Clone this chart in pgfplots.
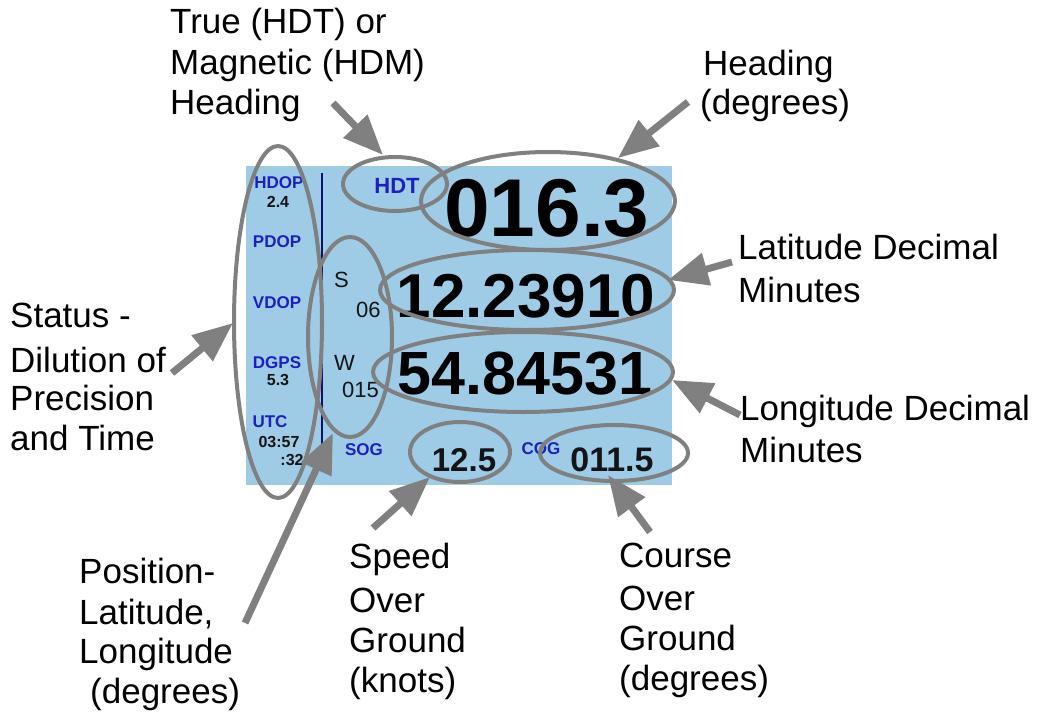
\documentclass[border=0pt]{standalone}
\usepackage{fontspec}
\setmainfont{Liberation Sans}
\usepackage{pgfplots}
\pgfplotsset{compat=1.18}
\usetikzlibrary{arrows.meta}
\definecolor{panel}{RGB}{158,204,230}
\definecolor{ann}{RGB}{128,128,128}
\definecolor{lbl}{RGB}{28,32,190}
\definecolor{navy}{RGB}{10,20,110}
\definecolor{ink}{RGB}{20,20,20}
\begin{document}
\begin{tikzpicture}[
  big/.style={anchor=base west,inner sep=0pt,font=\fontsize{35}{40}\selectfont},
  sb/.style={anchor=base,inner sep=0pt,text=lbl,font=\fontsize{17}{19}\selectfont\bfseries},
  sv/.style={anchor=base,inner sep=0pt,text=ink,font=\fontsize{16}{18}\selectfont\bfseries},
  posl/.style={anchor=base west,inner sep=0pt,text=ink,font=\fontsize{22}{24}\selectfont},
  ell/.style={draw=ann,line width=4pt},
  arr/.style={draw=ann,line width=7pt,-{Triangle[length=40pt,width=32pt,fill=ann]}}]
\begin{axis}[x=1pt,y=1pt,xmin=0,xmax=1047,ymin=0,ymax=712,y dir=reverse,hide axis,clip=false]
% panel
\fill[panel] (axis cs:246,166) rectangle (axis cs:672,485);
\draw[navy,line width=2pt] (axis cs:322,173) -- (axis cs:322,447);
% left status column
\node[sb] at (axis cs:279,188) {HDOP};
\node[sv] at (axis cs:278,207) {2.4};
\node[sb] at (axis cs:277,247) {PDOP};
\node[sb] at (axis cs:277,308) {VDOP};
\node[sb] at (axis cs:277,368) {DGPS};
\node[sv] at (axis cs:278,385) {5.3};
\node[sb] at (axis cs:270,427) {UTC};
\node[sv] at (axis cs:279,447) {03:57};
\node[sv] at (axis cs:292,465) {:32};
% position
\node[posl] at (axis cs:334,287) {S};
\node[posl] at (axis cs:356,317) {06};
\node[posl] at (axis cs:334,370) {W};
\node[posl] at (axis cs:342,397) {015};
% heading etc
\node[anchor=base,inner sep=0pt,text=lbl,font=\fontsize{22}{24}\selectfont\bfseries] at (axis cs:397,193) {HDT};
\node[anchor=base,inner sep=0pt,font=\fontsize{82}{90}\selectfont\bfseries] at (axis cs:547,236) {016.3};
\node[anchor=base,inner sep=0pt,font=\fontsize{62}{70}\selectfont\bfseries] at (axis cs:526,317) {12.23910};
\node[anchor=base,inner sep=0pt,font=\fontsize{61}{70}\selectfont\bfseries] at (axis cs:525,394) {54.84531};
\node[sb] at (axis cs:364,455) {SOG};
\node[sb] at (axis cs:541,454) {COG};
\node[anchor=base,inner sep=0pt,text=ink,font=\fontsize{33}{36}\selectfont\bfseries] at (axis cs:464,471) {12.5};
\node[anchor=base,inner sep=0pt,text=ink,font=\fontsize{34}{36}\selectfont\bfseries] at (axis cs:612,471) {011.5};
% ellipses
\draw[ell] (axis cs:278,322) ellipse [x radius=44,y radius=176];
\draw[ell] (axis cs:350,337) ellipse [x radius=42,y radius=100];
\draw[ell] (axis cs:395,184) ellipse [x radius=52,y radius=27];
\draw[ell] (axis cs:548,201) ellipse [x radius=127,y radius=49];
\draw[ell] (axis cs:527,290) ellipse [x radius=147,y radius=40];
\draw[ell] (axis cs:523,372) ellipse [x radius=150,y radius=40];
\draw[ell] (axis cs:460,452) ellipse [x radius=50,y radius=30];
\draw[ell] (axis cs:614,453) ellipse [x radius=74,y radius=28];
% arrows
\draw[arr] (axis cs:333,103) -- (axis cs:383,155);
\draw[arr] (axis cs:688,102) -- (axis cs:618,158);
\draw[arr] (axis cs:732,262) -- (axis cs:668,280);
\draw[arr] (axis cs:740,415) -- (axis cs:672,380);
\draw[arr] (axis cs:172,373) -- (axis cs:233,323);
\draw[arr] (axis cs:245,623) -- (axis cs:333,433);
\draw[arr] (axis cs:373,528) -- (axis cs:430,477);
\draw[arr] (axis cs:650,532) -- (axis cs:608,475);
% labels
\node[big] at (axis cs:170,33) {True (HDT) or};
\node[big] at (axis cs:170,74) {Magnetic (HDM)};
\node[big] at (axis cs:170,114) {Heading};
\node[big] at (axis cs:703,75) {Heading};
\node[big] at (axis cs:700,114) {(degrees)};
\node[big] at (axis cs:738,259) {Latitude Decimal};
\node[big] at (axis cs:738,302) {Minutes};
\node[big] at (axis cs:740,420) {Longitude Decimal};
\node[big] at (axis cs:740,462) {Minutes};
\node[big] at (axis cs:10,327) {Status -};
\node[big] at (axis cs:10,372) {Dilution of};
\node[big] at (axis cs:10,410) {Precision};
\node[big] at (axis cs:10,450) {and Time};
\node[big] at (axis cs:79,583) {Position-};
\node[big] at (axis cs:79,624) {Latitude,};
\node[big] at (axis cs:79,663) {Longitude};
\node[big] at (axis cs:90,703) {(degrees)};
\node[big] at (axis cs:349,568) {Speed};
\node[big] at (axis cs:349,612) {Over};
\node[big] at (axis cs:349,652) {Ground};
\node[big] at (axis cs:349,692) {(knots)};
\node[big] at (axis cs:619,567) {Course};
\node[big] at (axis cs:619,610) {Over};
\node[big] at (axis cs:619,650) {Ground};
\node[big] at (axis cs:619,690) {(degrees)};
\end{axis}
\pgfresetboundingbox
\path (current axis.south west) rectangle (current axis.north east);
\end{tikzpicture}
\end{document}
